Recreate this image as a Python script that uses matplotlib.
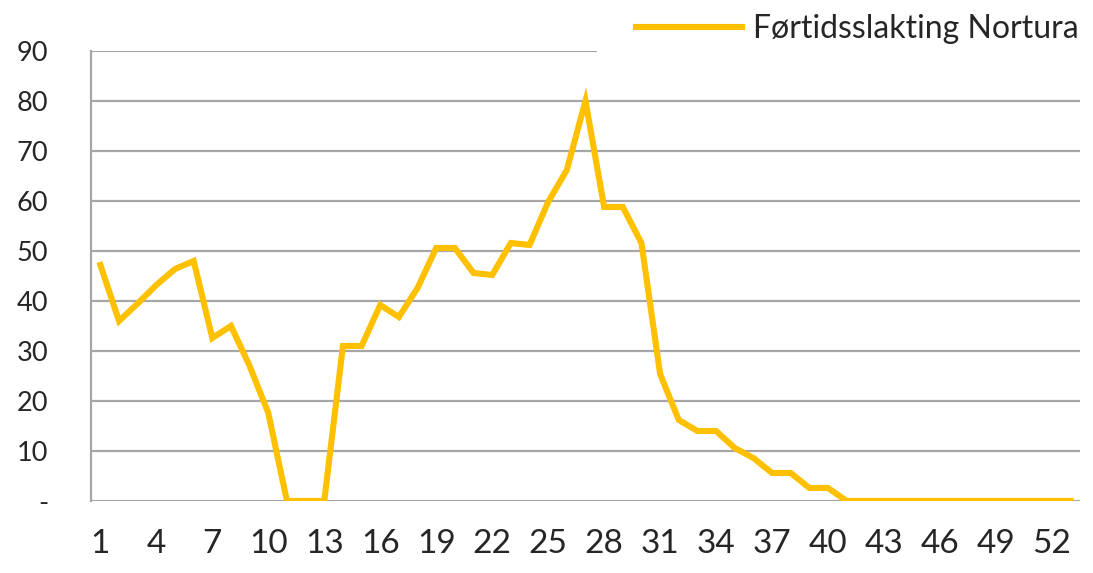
import matplotlib
matplotlib.use("Agg")
import matplotlib.pyplot as plt
from matplotlib.patches import Rectangle

# Weekly early slaughter (Nortura), weeks 1-53
weeks = list(range(1, 54))
fortidsslakting = [
    47.2, 36.0, 39.5, 43.2, 46.4, 48.0, 32.6, 35.0, 27.0, 17.6,
    0.0, 0.0, 0.0, 31.0, 31.0, 39.2, 36.8, 42.6, 50.6, 50.6,
    45.6, 45.2, 51.6, 51.2, 59.8, 66.2, 80.0, 58.8, 58.8, 51.6,
    25.4, 16.2, 14.0, 14.0, 10.6, 8.6, 5.6, 5.6, 2.6, 2.6,
    0.0, 0.0, 0.0, 0.0, 0.0, 0.0, 0.0, 0.0, 0.0, 0.0,
    0.0, 0.0, 0.0,
]
x_ticks = list(range(1, 53, 3))
y_ticks = list(range(0, 100, 10))
y_labels = ["-"] + [str(v) for v in y_ticks[1:]]

LINE_COLOR = "#FFC000"
GRID_COLOR = "#A6A6A6"
TEXT_COLOR = "#262626"

plt.rcParams["font.family"] = ["Lato", "DejaVu Sans"]

fig = plt.figure(figsize=(10.93, 5.73), dpi=100)
ax = fig.add_axes([0.0833, 0.1257, 0.9047, 0.7853])

ax.plot(weeks, fortidsslakting, color=LINE_COLOR, linewidth=4.4,
        solid_joinstyle="miter", label="Førtidsslakting Nortura", zorder=3)

ax.set_xlim(0.5, 53.5)
ax.set_ylim(0, 90)
ax.set_yticks(y_ticks)
ax.set_yticklabels(y_labels)
ax.set_xticks(x_ticks)
ax.set_xticklabels([str(w) for w in x_ticks])

ax.yaxis.grid(True, color=GRID_COLOR, linewidth=1.6)
ax.set_axisbelow(True)
for side in ["top", "right", "bottom"]:
    ax.spines[side].set_visible(False)
ax.spines["left"].set_color(GRID_COLOR)
ax.spines["left"].set_linewidth(1.6)

ax.tick_params(axis="y", length=0, pad=31, labelsize=19.5, labelcolor=TEXT_COLOR)
ax.tick_params(axis="x", length=0, pad=20, labelsize=24, labelcolor=TEXT_COLOR)

# white backing behind the legend hides the right part of the top gridline
fig.patches.append(Rectangle((597 / 1093, 1 - 55 / 573), 1, 55 / 573,
                             transform=fig.transFigure, facecolor="white",
                             edgecolor="none", zorder=5))

leg = fig.legend(loc="upper right", bbox_to_anchor=(1.0, 1.0), frameon=False,
                 fontsize=23, handlelength=3.3, handletextpad=0.35,
                 borderaxespad=0.05)
for t in leg.get_texts():
    t.set_color(TEXT_COLOR)
leg.set_zorder(6)

fig.savefig("out.png", dpi=100, facecolor="white")
